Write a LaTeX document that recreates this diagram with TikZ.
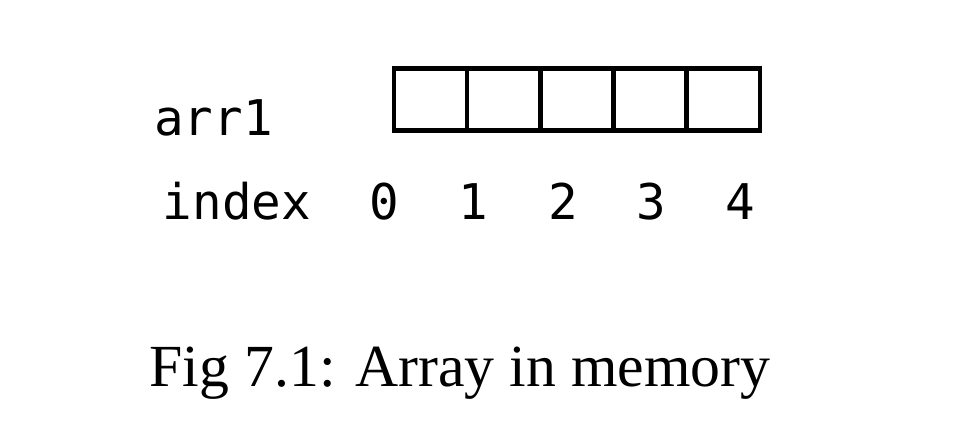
\documentclass[tikz,border=0pt]{standalone}
\usepackage{fontspec}
\setmainfont{Liberation Serif}
\setmonofont{DejaVu Sans Mono}
\usepackage{tikz}
\usetikzlibrary{positioning}

\begin{document}
\begin{tikzpicture}
		\useasboundingbox (0,0) rectangle (19.36,-8.44);
		\begin{scope}
			[
				styleCell/.style={
					minimum width = 1.464cm, minimum height = 1.24cm,
					inner sep = 0pt, outer sep = 0pt,
					draw, line width = 2.4pt
					},
				styleCode/.style={anchor = base, inner sep = 0pt,
					font = \ttfamily\fontsize{28}{33}\selectfont},
				styleCaption/.style={anchor = base, inner sep = 0pt,
					font = \fontsize{34}{40}\selectfont},
			]
			\node(arrName)[styleCode, anchor = base west] at (3.08,-2.72) {arr1};
			\node(cell0)[styleCell] at (8.61,-1.99) {};
			\node(cell1)[styleCell] at (10.07,-1.99) {};
			\node(cell2)[styleCell] at (11.54,-1.99) {};
			\node(cell3)[styleCell] at (13.00,-1.99) {};
			\node(cell4)[styleCell] at (14.47,-1.99) {};

			\node(idxName)[styleCode, anchor = base west] at (3.25,-4.40) {index};
			\node(idx0)[styleCode] at (7.68,-4.40) {0};
			\node(idx1)[styleCode] at (9.46,-4.40) {1};
			\node(idx2)[styleCode] at (11.26,-4.40) {2};
			\node(idx3)[styleCode] at (13.02,-4.40) {3};
			\node(idx4)[styleCode] at (14.80,-4.40) {4};

			\node(caption)[styleCaption] at (9.2,-7.74) {Fig 7.1: Array in memory};
		\end{scope}
	\end{tikzpicture}
\end{document}
